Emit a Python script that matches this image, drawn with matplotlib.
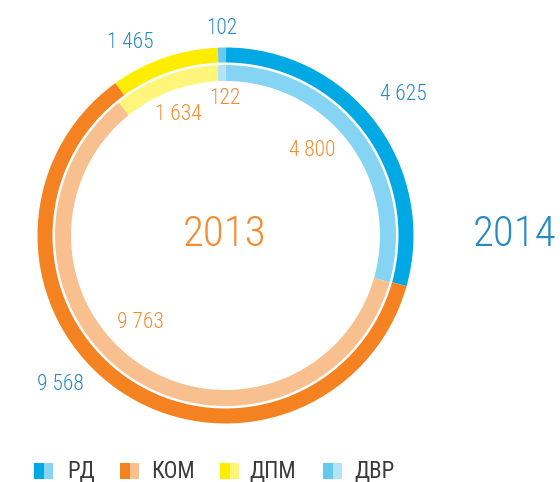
import matplotlib
matplotlib.use("Agg")
import matplotlib.pyplot as plt
from matplotlib import font_manager
from matplotlib.patches import Rectangle

# ---- data ----
categories = ["РД", "КОМ", "ДПМ", "ДВР"]
values_2014 = [4625, 9568, 1465, 102]
values_2013 = [4800, 9763, 1634, 122]
labels_2014 = ["4 625", "9 568", "1 465", "102"]
labels_2013 = ["4 800", "9 763", "1 634", "122"]
years = ["2013", "2014"]

# ---- styles ----
dark_colors = ["#00A8E4", "#F58220", "#FFED00", "#66C8EF"]
light_colors = ["#85D4F4", "#F8BF8F", "#FFF57A", "#B3E3F7"]
blue_txt = "#2789C6"
orange_txt = "#F58A2E"

names = {f.name for f in font_manager.fontManager.ttflist}
fam = "DejaVu Sans"
for cand in ["Liberation Sans Narrow", "Roboto Condensed", "Roboto", "DejaVu Sans"]:
    if cand in names:
        fam = cand
        break
plt.rcParams["font.family"] = [fam, "DejaVu Sans"]

W, H = 560, 482
fig = plt.figure(figsize=(W / 100, H / 100), dpi=100)
ax = fig.add_axes([0, 0, 1, 1])

def Y(y):
    return H - y

cx, cy = 225.5, Y(235.5)
R_out, w_out = 188, 15
R_in, w_in = 170.5, 16

ax.pie(values_2014, radius=R_out, center=(cx, cy), startangle=90, counterclock=False,
       colors=dark_colors, wedgeprops=dict(width=w_out, linewidth=0), frame=True)
ax.pie(values_2013, radius=R_in, center=(cx, cy), startangle=90, counterclock=False,
       colors=light_colors, wedgeprops=dict(width=w_in, linewidth=0), frame=True)

ax.set_xlim(0, W)
ax.set_ylim(0, H)
ax.set_aspect("equal")
ax.axis("off")

# value labels
pos_2014 = [(403, 95), (60, 385), (130, 42), (221.5, 28)]
pos_2013 = [(312, 150), (140, 322), (178, 115), (225, 98.5)]
for (x, y), t in zip(pos_2014, labels_2014):
    ax.text(x, Y(y), t, color=blue_txt, fontsize=15.5, fontweight="light",
            ha="center", va="center")
for (x, y), t in zip(pos_2013, labels_2013):
    ax.text(x, Y(y), t, color=orange_txt, fontsize=15.5, fontweight="light",
            ha="center", va="center")

# year labels
ax.text(224.5, Y(235), years[0], color=orange_txt, fontsize=31, fontweight="light",
        ha="center", va="center")
ax.text(556, Y(235), years[1], color=blue_txt, fontsize=31, fontweight="light",
        ha="right", va="center")

# legend
sq_x = [34, 120, 220, 323]
txt_x = [67, 151, 249, 354]
for i, cat in enumerate(categories):
    ax.add_patch(Rectangle((sq_x[i], Y(479)), 10, 16.5, color=dark_colors[i], lw=0))
    ax.add_patch(Rectangle((sq_x[i] + 10, Y(479)), 9, 16.5, color=light_colors[i], lw=0))
    ax.text(txt_x[i], Y(471), cat, color="#3A3A3A", fontsize=16.5,
            ha="left", va="center")

fig.savefig("out.png", dpi=100)
